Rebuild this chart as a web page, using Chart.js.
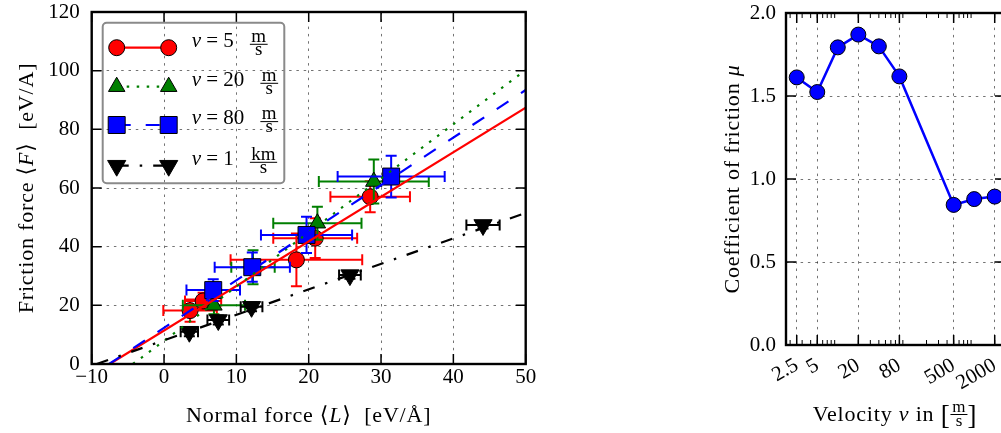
<!DOCTYPE html>
<html>
<head>
<meta charset="utf-8">
<title>Friction force and coefficient of friction</title>
<script src="https://cdn.jsdelivr.net/npm/chart.js@4.4.1/dist/chart.umd.min.js"></script>
<style>
  html, body { margin: 0; padding: 0; background: #fff; }
  #figure { position: relative; width: 1001px; height: 433px; overflow: hidden; background: #fff; }
  #forceChart { position: absolute; left: 0; top: 0; }
  #muChart { position: absolute; left: 600px; top: 0; }
</style>
</head>
<body>
<div id="figure">
  <canvas id="forceChart" width="560" height="433"></canvas>
  <canvas id="muChart" width="420" height="433"></canvas>
</div>
<script>
// ---------- left panel: normal force <L> vs friction force <F> ----------
const load5     = [3.6, 5.4, 18.3, 20.9, 28.5];
const fric5     = [18.2, 21.5, 35.5, 42.9, 57.0];
const load5Err  = [3.7, 2.5, 9.1, 5.8, 5.5];
const fric5Err  = [3.8, 2.8, 9.0, 6.8, 5.3];

const load20    = [6.9, 12.3, 21.2, 29.0];
const fric20    = [20.0, 33.0, 48.0, 62.2];
const load20Err = [4.3, 3.0, 6.1, 7.6];
const fric20Err = [3.0, 5.8, 5.6, 7.5];

const load80    = [6.8, 12.2, 19.7, 31.4];
const fric80    = [25.2, 33.0, 44.0, 63.9];
const load80Err = [3.7, 5.2, 6.3, 7.4];
const fric80Err = [3.7, 5.0, 6.2, 7.1];

const load1k    = [3.5, 7.5, 12.1, 25.7, 44.1];
const fric1k    = [11.0, 15.0, 19.5, 30.3, 47.4];
const load1kErr = [1.2, 1.5, 1.5, 1.5, 2.3];
const fric1kErr = [1.5, 1.5, 1.5, 1.2, 1.2];

// linear fits, as end points
const fit5X  = [-7.5, 50], fit5Y  = [0, 87.4];
const fit20X = [-4.3, 50], fit20Y = [0, 100.2];
const fit80X = [-7.6, 50], fit80Y = [0, 93.4];
const fit1kX = [-9.3, 50], fit1kY = [0, 51.5];

const loadTicks     = [-10, 0, 10, 20, 30, 40, 50];
const frictionTicks = [0, 20, 40, 60, 80, 100, 120];

// ---------- right panel: coefficient of friction vs velocity ----------
const velocity      = [2.5, 5, 10, 20, 40, 80, 500, 1000, 2000];
const mu            = [1.612, 1.524, 1.793, 1.870, 1.799, 1.618, 0.844, 0.879, 0.894];
const velocityTicks = [2.5, 5, 20, 80, 500, 2000];
const muTicks       = [0, 0.5, 1.0, 1.5, 2.0];

// ---------- styling ----------
const SERIF = '"Liberation Serif", "DejaVu Serif", serif';
Chart.defaults.font.family = SERIF;
Chart.defaults.color = '#000';

const series = [
  { speed: '5',  unit: ['m', 's'],  color: '#ff0000', pointStyle: 'circle',   radius: 8,    rotation: 0,
    dash: [], load: load5, fric: fric5, loadErr: load5Err, fricErr: fric5Err, fitX: fit5X, fitY: fit5Y },
  { speed: '20', unit: ['m', 's'],  color: '#007f00', pointStyle: 'triangle', radius: 9.5,  rotation: 0,
    dash: [2.5, 7.5], load: load20, fric: fric20, loadErr: load20Err, fricErr: fric20Err, fitX: fit20X, fitY: fit20Y },
  { speed: '80', unit: ['m', 's'],  color: '#0000ff', pointStyle: 'rect',     radius: 12,   rotation: 0,
    dash: [14, 15], load: load80, fric: fric80, loadErr: load80Err, fricErr: fric80Err, fitX: fit80X, fitY: fit80Y },
  { speed: '1',  unit: ['km', 's'], color: '#000000', pointStyle: 'triangle', radius: 10.5, rotation: 180,
    dash: [12, 11, 2.5, 11], load: load1k, fric: fric1k, loadErr: load1kErr, fricErr: fric1kErr, fitX: fit1kX, fitY: fit1kY }
];

function fnt(size, italic) { return (italic ? 'italic ' : '') + size + 'px ' + SERIF; }

// width of one piece of a label: plain/italic text, a gap, or a small fraction
function partWidth(ctx, p, size) {
  if (p.gap !== undefined) return p.gap;
  if (p.num !== undefined) {
    ctx.font = fnt(p.fs || 18, false);
    return Math.max(ctx.measureText(p.num).width, ctx.measureText(p.den).width) + 3;
  }
  ctx.font = fnt(p.fs || size, p.i);
  return ctx.measureText(p.t).width;
}

// draws a label made of pieces, with the baseline at y
function drawMath(ctx, parts, x, y, size, align, spacing) {
  ctx.save();
  ctx.letterSpacing = (spacing || 0) + 'px';
  let w = 0;
  parts.forEach(p => { w += partWidth(ctx, p, size); });
  let cx = align === 'center' ? x - w / 2 : x;
  ctx.textAlign = 'left';
  ctx.textBaseline = 'alphabetic';
  ctx.fillStyle = '#000';
  parts.forEach(p => {
    const pw = partWidth(ctx, p, size);
    if (p.num !== undefined) {
      const fs = p.fs || 18;
      ctx.font = fnt(fs, false);
      ctx.letterSpacing = '0px';
      const nw = ctx.measureText(p.num).width, dw = ctx.measureText(p.den).width;
      ctx.fillText(p.num, cx + (pw - nw) / 2, y + (p.nOff !== undefined ? p.nOff : -5));
      ctx.fillText(p.den, cx + (pw - dw) / 2, y + (p.dOff !== undefined ? p.dOff : 8));
      ctx.fillRect(cx, y + (p.bOff !== undefined ? p.bOff : -2.9), pw, 1);
      ctx.letterSpacing = (spacing || 0) + 'px';
    } else if (p.t !== undefined) {
      ctx.font = fnt(p.fs || size, p.i);
      ctx.fillText(p.t, cx, y + (p.dy || 0));
    }
    cx += pw;
  });
  ctx.restore();
}

function marker(ctx, style, radius, rotation, x, y, fill) {
  ctx.save();
  ctx.fillStyle = fill;
  ctx.strokeStyle = '#000';
  ctx.lineWidth = 1;
  ctx.setLineDash([]);
  Chart.helpers.drawPoint(ctx, { pointStyle: style, radius: radius, rotation: rotation, borderWidth: 1 }, x, y);
  ctx.restore();
}

// error bars with caps, drawn just below each scatter dataset
const errorBars = {
  id: 'errorBars',
  beforeDatasetDraw(chart, args) {
    const ds = chart.data.datasets[args.index];
    if (!ds.errX) return;
    const xs = chart.scales.x, ys = chart.scales.y, a = chart.chartArea, ctx = chart.ctx;
    const cap = 5.5;
    ctx.save();
    ctx.beginPath();
    ctx.rect(a.left, a.top, a.right - a.left, a.bottom - a.top);
    ctx.clip();
    ctx.strokeStyle = ds.pointBackgroundColor;
    ctx.lineWidth = 2;
    ctx.setLineDash([]);
    ctx.beginPath();
    ds.data.forEach((pt, i) => {
      const px = xs.getPixelForValue(pt.x), py = ys.getPixelForValue(pt.y);
      const x0 = xs.getPixelForValue(pt.x - ds.errX[i]), x1 = xs.getPixelForValue(pt.x + ds.errX[i]);
      const y0 = ys.getPixelForValue(pt.y - ds.errY[i]), y1 = ys.getPixelForValue(pt.y + ds.errY[i]);
      ctx.moveTo(x0, py); ctx.lineTo(x1, py);
      ctx.moveTo(px, y0); ctx.lineTo(px, y1);
      ctx.moveTo(x0, py - cap); ctx.lineTo(x0, py + cap);
      ctx.moveTo(x1, py - cap); ctx.lineTo(x1, py + cap);
      ctx.moveTo(px - cap, y0); ctx.lineTo(px + cap, y0);
      ctx.moveTo(px - cap, y1); ctx.lineTo(px + cap, y1);
    });
    ctx.stroke();
    ctx.restore();
  }
};

// frame, inward tick marks, plus panel specific drawing
function axesDecor(minorX, extra) {
  return {
    id: 'axesDecor',
    afterDraw(chart) {
      const ctx = chart.ctx, a = chart.chartArea, sx = chart.scales.x, sy = chart.scales.y;
      ctx.save();
      ctx.strokeStyle = '#000';
      ctx.setLineDash([]);
      ctx.lineWidth = 1.5;
      ctx.beginPath();
      sx.ticks.forEach(t => {
        const p = sx.getPixelForValue(t.value);
        ctx.moveTo(p, a.bottom); ctx.lineTo(p, a.bottom - 10);
        ctx.moveTo(p, a.top); ctx.lineTo(p, a.top + 10);
      });
      sy.ticks.forEach(t => {
        const p = sy.getPixelForValue(t.value);
        ctx.moveTo(a.left, p); ctx.lineTo(a.left + 10, p);
        ctx.moveTo(a.right, p); ctx.lineTo(a.right - 10, p);
      });
      ctx.stroke();
      if (minorX) {
        ctx.lineWidth = 1;
        ctx.beginPath();
        minorX.forEach(v => {
          if (v < sx.min || v > sx.max) return;
          const p = sx.getPixelForValue(v);
          ctx.moveTo(p, a.bottom); ctx.lineTo(p, a.bottom - 5);
          ctx.moveTo(p, a.top); ctx.lineTo(p, a.top + 5);
        });
        ctx.stroke();
      }
      ctx.lineWidth = 2.4;
      ctx.strokeRect(a.left, a.top, a.right - a.left, a.bottom - a.top);
      ctx.restore();
      extra(chart);
    }
  };
}

const gridStyle = { color: 'rgba(0,0,0,0.55)', lineWidth: 1, drawTicks: false };
const gridBorder = { display: false, dash: [2.5, 4.8] };
const tickFont = { family: SERIF, size: 21 };

// fixed axis band sizes; label overhang must not push the plot area around
function fixHeight(h) {
  return s => { s.height = h; s.paddingLeft = 0; s.paddingRight = 0; s.paddingTop = 0; s.paddingBottom = 0; };
}
function fixWidth(w) {
  return s => { s.width = w; s.paddingLeft = 0; s.paddingRight = 0; s.paddingTop = 0; s.paddingBottom = 0; };
}

// ---------- left chart ----------
const forceDatasets = [];
series.forEach((s, i) => {
  forceDatasets.push({
    type: 'scatter',
    label: 'v = ' + s.speed + ' ' + s.unit.join('/'),
    data: s.load.map((x, j) => ({ x: x, y: s.fric[j] })),
    errX: s.loadErr,
    errY: s.fricErr,
    pointStyle: s.pointStyle,
    pointRadius: s.radius,
    pointRotation: s.rotation,
    pointBackgroundColor: s.color,
    pointBorderColor: '#000',
    pointBorderWidth: 1,
    showLine: false,
    order: 8 - i
  });
});
series.forEach((s, i) => {
  forceDatasets.push({
    type: 'line',
    label: 'fit ' + s.speed,
    data: s.fitX.map((x, j) => ({ x: x, y: s.fitY[j] })),
    borderColor: s.color,
    borderWidth: 2.2,
    borderDash: s.dash,
    pointRadius: 0,
    fill: false,
    tension: 0,
    order: 4 - i
  });
});

const legendRows = [47.7, 86.7, 125, 165.7];

new Chart(document.getElementById('forceChart'), {
  data: { datasets: forceDatasets },
  options: {
    responsive: false,
    animation: false,
    events: [],
    layout: { autoPadding: false, padding: { top: 12, right: 34.3, left: 0, bottom: 0 } },
    plugins: { legend: { display: false }, tooltip: { enabled: false } },
    scales: {
      x: {
        type: 'linear', min: -10, max: 50,
        afterBuildTicks: s => { s.ticks = loadTicks.map(v => ({ value: v })); },
        afterFit: fixHeight(69),
        ticks: { font: tickFont, color: '#000', padding: 0.5, autoSkip: false, maxRotation: 0,
                 callback: v => (v < 0 ? '\u2212' + Math.abs(v) : String(v)) },
        grid: gridStyle, border: gridBorder
      },
      y: {
        type: 'linear', min: 0, max: 120,
        afterBuildTicks: s => { s.ticks = frictionTicks.map(v => ({ value: v })); },
        afterFit: fixWidth(91.7),
        ticks: { font: tickFont, color: '#000', padding: 12, autoSkip: false, callback: v => String(v) },
        grid: gridStyle, border: gridBorder
      }
    }
  },
  plugins: [errorBars, axesDecor(null, chart => {
    const ctx = chart.ctx;
    ctx.save();
    // legend box
    ctx.strokeStyle = '#8a8a8a';
    ctx.lineWidth = 2;
    ctx.beginPath();
    ctx.roundRect(102.7, 22.7, 181.6, 160.6, 4);
    ctx.stroke();
    series.forEach((s, i) => {
      const y = legendRows[i];
      ctx.strokeStyle = s.color;
      ctx.lineWidth = 2.2;
      ctx.setLineDash(s.dash);
      ctx.beginPath();
      ctx.moveTo(116.7, y); ctx.lineTo(168.7, y);
      ctx.stroke();
      ctx.setLineDash([]);
      marker(ctx, s.pointStyle, s.radius, s.rotation, 116.7, y, s.color);
      marker(ctx, s.pointStyle, s.radius, s.rotation, 168.7, y, s.color);
      drawMath(ctx, [{ t: 'v', i: true }, { t: ' = ' + s.speed }, { gap: 16 },
                     { num: s.unit[0], den: s.unit[1], fs: 19 }], 191.7, y - 1, 21, 'left');
    });
    // axis titles
    drawMath(ctx, [{ t: 'Normal force ' }, { t: '\u27E8' }, { t: 'L', i: true }, { t: '\u27E9' }, { t: '  [eV/\u00C5]' }],
             308.7, 422, 22, 'center', 0.8);
    ctx.translate(33, 188);
    ctx.rotate(-Math.PI / 2);
    drawMath(ctx, [{ t: 'Friction force ' }, { t: '\u27E8' }, { t: 'F', i: true }, { t: '\u27E9' }, { t: '  [eV/A]' }],
             0, 0, 22, 'center', 0.8);
    ctx.restore();
  })]
});

// ---------- right chart ----------
// unlabelled log ticks at 2..9 times each decade
const minorVelocity = [];
[1, 10, 100, 1000].forEach(d => { for (let k = 2; k <= 9; k++) minorVelocity.push(k * d); });

new Chart(document.getElementById('muChart'), {
  type: 'line',
  data: {
    datasets: [{
      label: 'Coefficient of friction',
      data: velocity.map((v, i) => ({ x: v, y: mu[i] })),
      borderColor: '#0000ff',
      borderWidth: 2.5,
      pointStyle: 'circle',
      pointRadius: 7.5,
      pointBackgroundColor: '#0000ff',
      pointBorderColor: '#000',
      pointBorderWidth: 1,
      fill: false,
      tension: 0
    }]
  },
  options: {
    responsive: false,
    animation: false,
    events: [],
    layout: { autoPadding: false, padding: { top: 13, right: 15, left: 0, bottom: 0 } },
    plugins: { legend: { display: false }, tooltip: { enabled: false } },
    scales: {
      x: {
        type: 'logarithmic', min: 1.74, max: 2830,
        afterBuildTicks: s => { s.ticks = velocityTicks.map(v => ({ value: v })); },
        afterFit: fixHeight(88),
        ticks: { font: tickFont, color: '#000', padding: 8, autoSkip: false, minRotation: 30, maxRotation: 30,
                 callback: v => String(v) },
        grid: gridStyle, border: gridBorder
      },
      y: {
        type: 'linear', min: 0, max: 2,
        afterBuildTicks: s => { s.ticks = muTicks.map(v => ({ value: v })); },
        afterFit: fixWidth(186),
        ticks: { font: tickFont, color: '#000', padding: 10, autoSkip: false, callback: v => v.toFixed(1) },
        grid: gridStyle, border: gridBorder
      }
    }
  },
  plugins: [axesDecor(minorVelocity, chart => {
    const ctx = chart.ctx;
    ctx.save();
    drawMath(ctx, [{ t: 'Velocity ' }, { t: 'v', i: true }, { t: ' in ' }, { t: '[', fs: 27, dy: 3 },
                   { num: 'm', den: 's', fs: 17, nOff: -9, bOff: -7, dOff: 5 }, { t: ']', fs: 27, dy: 3 }],
             295, 421, 22, 'center', 0.8);
    ctx.translate(139, 179);
    ctx.rotate(-Math.PI / 2);
    drawMath(ctx, [{ t: 'Coefficient of friction ' }, { t: '\u03BC', i: true }], 0, 0, 22, 'center', 0.8);
    ctx.restore();
  })]
});
</script>
</body>
</html>
